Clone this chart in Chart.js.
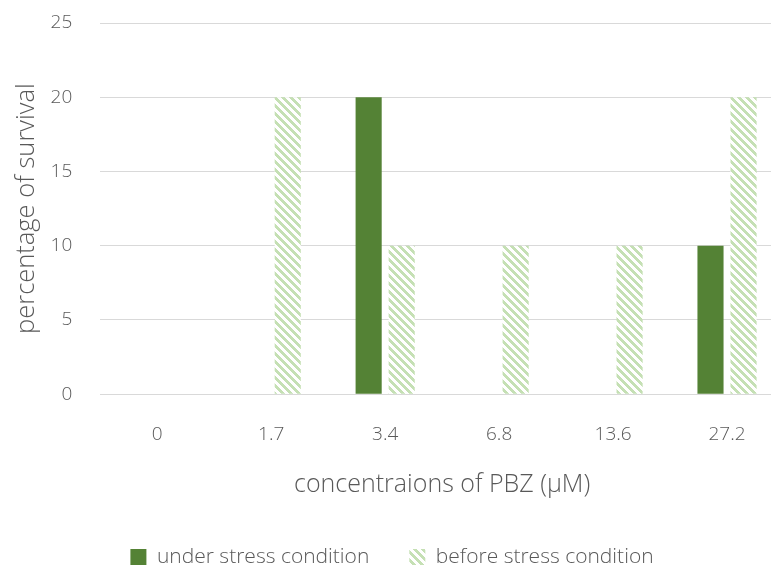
<!DOCTYPE html>
<html>
<head>
<meta charset="utf-8">
<script src="https://cdn.jsdelivr.net/npm/chart.js@4.4.1/dist/chart.umd.min.js"></script>
<style>
  html, body { margin: 0; padding: 0; background: #ffffff; overflow: hidden; }
  #wrap { width: 790px; height: 568px; position: relative; }
</style>
</head>
<body>
<div id="wrap"><canvas id="c" width="790" height="568"></canvas></div>
<script>
// PBZ concentrations (µM) on the category axis
const concentrations = ['0', '1.7', '3.4', '6.8', '13.6', '27.2'];
// survival percentages per series
const underStress = [0, 0, 20, 0, 0, 10];
const beforeStress = [0, 20, 10, 10, 10, 20];
const seriesNames = ['under stress condition', 'before stress condition'];
const yTicks = [0, 5, 10, 15, 20, 25];

const FONT = "'Open Sans', sans-serif";
const TEXT = '#595959';
const GRID = '#d9d9d9';

// light green diagonal hatch (stripes running down to the right)
function hatch() {
  const t = document.createElement('canvas');
  t.width = 8; t.height = 8;
  const g = t.getContext('2d');
  g.fillStyle = '#ffffff';
  g.fillRect(0, 0, 8, 8);
  g.fillStyle = '#c5e0b4';
  for (let y = 0; y < 8; y++) {
    for (let x = 0; x < 8; x++) {
      if (((x - y) % 8 + 8) % 8 < 4) g.fillRect(x, y, 1, 1);
    }
  }
  return document.getElementById('c').getContext('2d').createPattern(t, 'repeat');
}

new Chart(document.getElementById('c'), {
  type: 'bar',
  data: {
    labels: concentrations,
    datasets: [
      { label: seriesNames[0], data: underStress, backgroundColor: '#548235', borderWidth: 0 },
      { label: seriesNames[1], data: beforeStress, backgroundColor: hatch(), borderWidth: 0 }
    ]
  },
  options: {
    responsive: false,
    animation: false,
    devicePixelRatio: 1,
    categoryPercentage: 0.58,
    barPercentage: 0.79,
    layout: { padding: { top: 23, left: 0, right: 6, bottom: -9.5 } },
    plugins: {
      tooltip: { enabled: false },
      legend: {
        position: 'bottom',
        labels: {
          color: TEXT,
          font: { family: FONT, size: 21, weight: 300 },
          boxWidth: 16, boxHeight: 16,
          padding: 40
        }
      }
    },
    scales: {
      x: {
        // invisible tick marks keep the gap between the axis and its labels
        grid: { display: true, color: 'transparent', tickColor: 'transparent', drawTicks: true, tickLength: 27 },
        border: { display: true, color: GRID, width: 1 },
        ticks: { color: TEXT, font: { family: FONT, size: 19, weight: 300 }, padding: 2 },
        title: {
          display: true, text: 'concentraions of PBZ (μM)', color: TEXT,
          font: { family: FONT, size: 25, weight: 300 }, padding: { top: 22, bottom: 6.5 }
        }
      },
      y: {
        min: 0, max: 25,
        afterBuildTicks: (ax) => { ax.ticks = yTicks.map(v => ({ value: v })); },
        grid: { color: GRID, lineWidth: 1, drawTicks: true, tickColor: 'transparent', tickLength: 26 },
        border: { display: false },
        ticks: { color: TEXT, font: { family: FONT, size: 19, weight: 300 }, padding: 2 },
        title: {
          display: true, text: 'percentage of survival', color: TEXT,
          font: { family: FONT, size: 25.5, weight: 300 }, padding: { top: 11, bottom: 7 }
        }
      }
    }
  }
});
</script>
</body>
</html>
